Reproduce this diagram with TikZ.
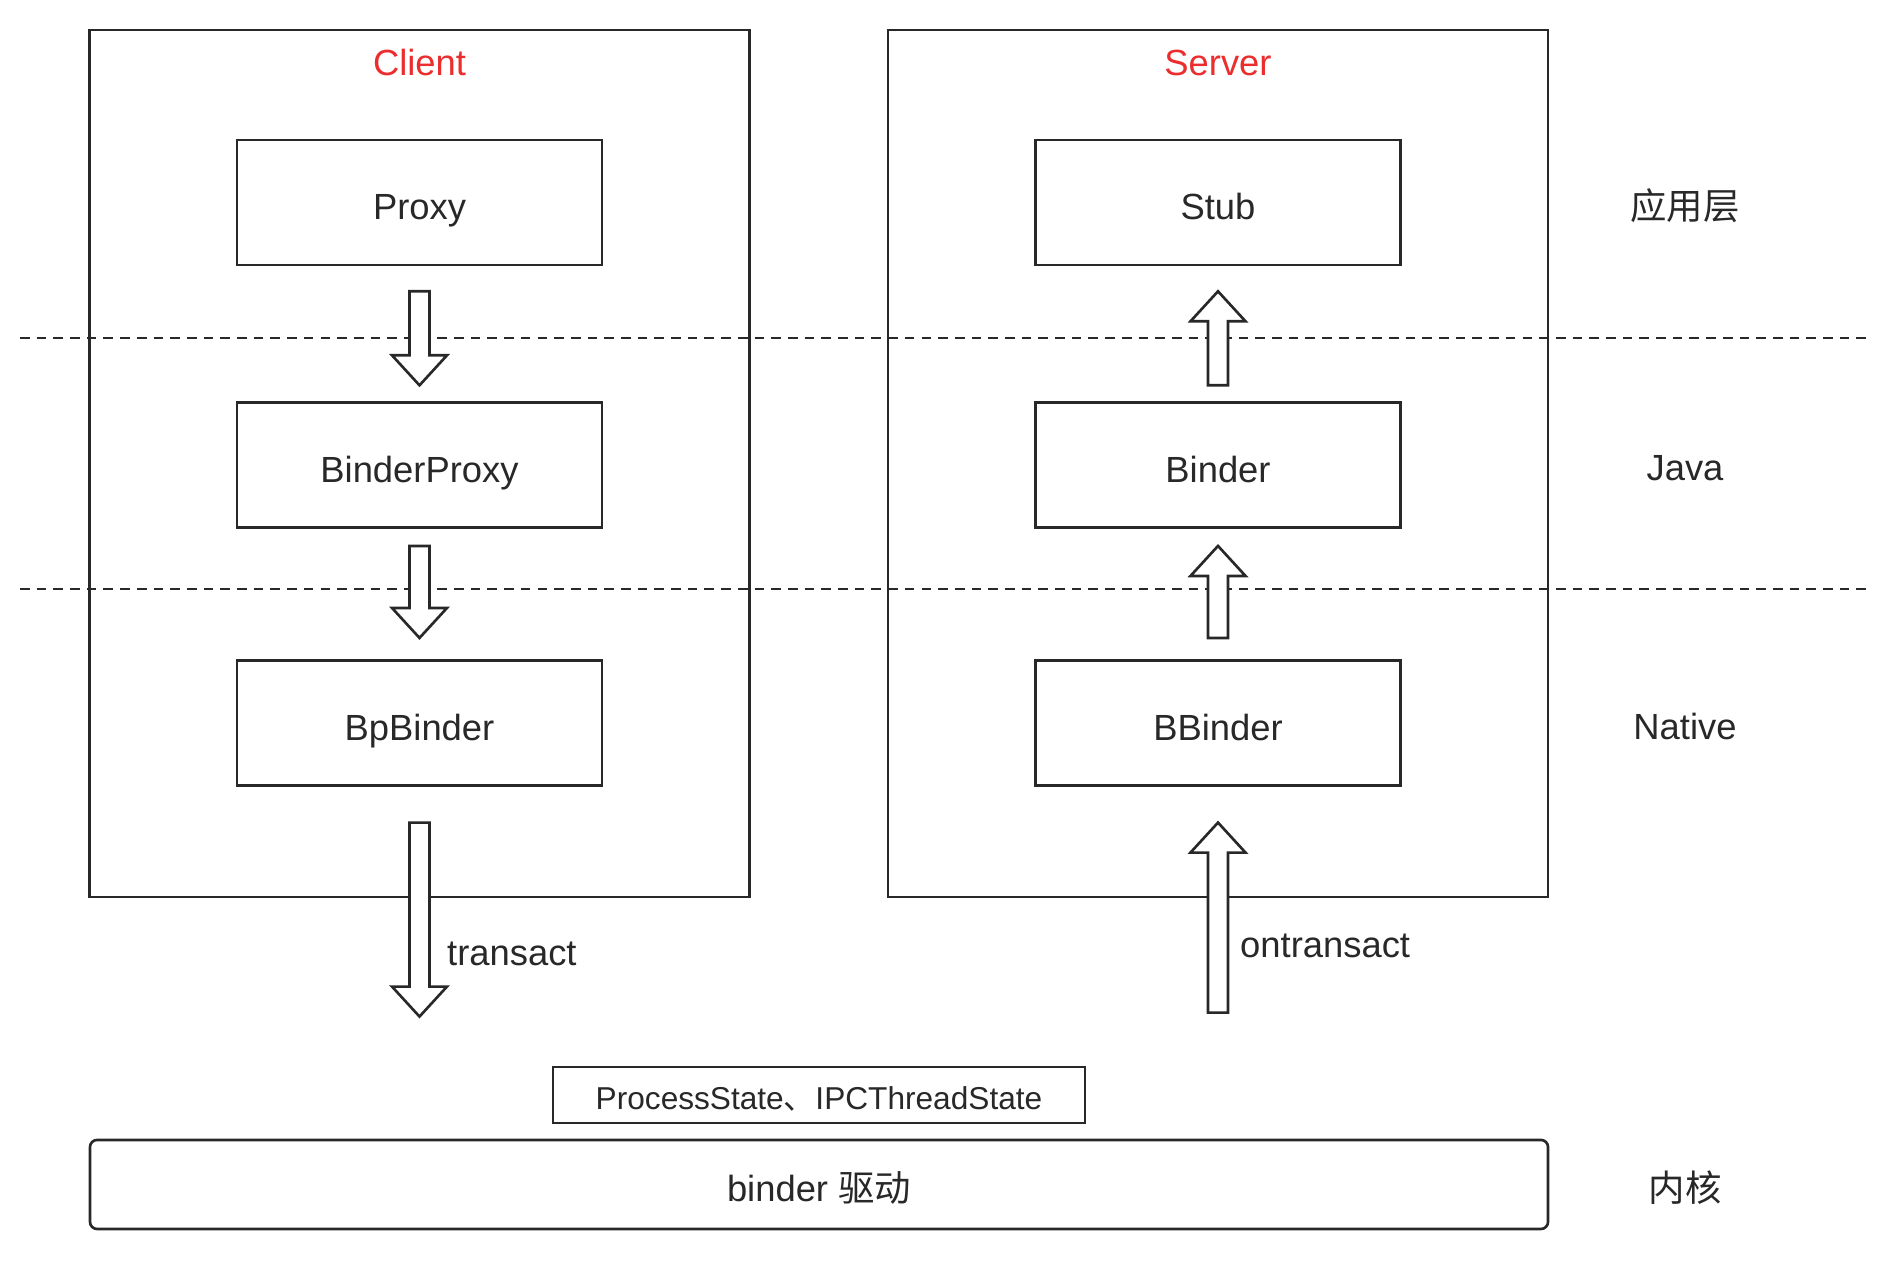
\documentclass[tikz,border=0pt]{standalone}
\usepackage{fontspec}
\setmainfont{Liberation Sans}
\newfontfamily\cjk{Noto Sans CJK SC}
\usetikzlibrary{positioning,calc}

\definecolor{txtgray}{RGB}{40,40,40}
\definecolor{linegray}{RGB}{40,40,40}
\definecolor{titlered}{RGB}{235,45,45}

\tikzset{
  sidebox/.style={draw=linegray, line width=1.5pt, minimum width=13.2cm,
    minimum height=17.34cm},
  layerbox/.style={draw=linegray, line width=1.5pt, minimum width=7.3cm,
    minimum height=2.5cm},
  layerline/.style={draw=linegray, line width=0.8pt, dash pattern=on 5.5pt off 4pt},
  arrowline/.style={draw=linegray, fill=white, line width=1.5pt, line join=miter}
}

% hollow block arrow from tail #1 to tip #2
\newcommand{\hollowarrow}[2]{%
  \coordinate (neck) at ($(#2)!0.6cm!(#1)$);
  \draw[arrowline] ($(#1)!0.2cm!90:(#2)$) -- ($(neck)!0.2cm!90:(#2)$)
    -- ($(neck)!0.55cm!90:(#2)$) -- (#2) -- ($(neck)!0.55cm!-90:(#2)$)
    -- ($(neck)!0.2cm!-90:(#2)$) -- ($(#1)!0.2cm!-90:(#2)$) -- cycle;
}

\begin{document}
\begin{tikzpicture}[every node/.style={font=\fontsize{20.7pt}{25pt}\selectfont,
    text=txtgray, text height=19.7pt, text depth=0pt}]
  \useasboundingbox (0,0) rectangle (37.6,25.24);

  \node (client) [sidebox] at (8.39,15.97) {};
  \node (server) [sidebox] at (24.36,15.97) {};
  \node (clienttitle) [text=titlered] at ($(client.north)+(0,-0.6)$) {Client};
  \node (servertitle) [text=titlered] at ($(server.north)+(0,-0.6)$) {Server};

  \draw[layerline] (0.4,18.48) -- (37.36,18.48);
  \draw[layerline] (0.4,13.46) -- (37.36,13.46);

  \node (proxy) [layerbox] at (8.39,21.19) {Proxy};
  \node (bproxy) [layerbox, below=2.7cm of proxy] {BinderProxy};
  \node (bpbinder) [layerbox, below=2.6cm of bproxy] {BpBinder};

  \node (stub) [layerbox] at (24.36,21.19) {Stub};
  \node (binder) [layerbox, below=2.7cm of stub] {Binder};
  \node (bbinder) [layerbox, below=2.6cm of binder] {BBinder};

  \coordinate (proxyout) at ($(proxy.south)+(0,-0.5)$);
  \coordinate (bproxyin) at ($(bproxy.north)+(0,0.32)$);
  \coordinate (bproxyout) at ($(bproxy.south)+(0,-0.34)$);
  \coordinate (bpbinderin) at ($(bpbinder.north)+(0,0.42)$);
  \coordinate (bpbinderout) at ($(bpbinder.south)+(0,-0.72)$);
  \coordinate (transactend) at ($(bpbinder.south)+(0,-4.6)$);
  \hollowarrow{proxyout}{bproxyin}
  \hollowarrow{bproxyout}{bpbinderin}
  \hollowarrow{bpbinderout}{transactend}

  \coordinate (stubin) at ($(stub.south)+(0,-0.5)$);
  \coordinate (binderout) at ($(binder.north)+(0,0.32)$);
  \coordinate (binderin) at ($(binder.south)+(0,-0.34)$);
  \coordinate (bbinderout) at ($(bbinder.north)+(0,0.42)$);
  \coordinate (bbinderin) at ($(bbinder.south)+(0,-0.72)$);
  \coordinate (ontransactstart) at ($(bbinder.south)+(0,-4.52)$);
  \hollowarrow{binderout}{stubin}
  \hollowarrow{bbinderout}{binderin}
  \hollowarrow{ontransactstart}{bbinderin}

  \node (transact) [anchor=west] at (8.82,6.27) {transact};
  \node (ontransact) [anchor=west] at (24.68,6.43) {ontransact};

  \node (state) [draw=linegray, line width=1.5pt, minimum width=10.64cm,
    minimum height=1.12cm, font=\fontsize{18pt}{22pt}\selectfont,
    text height=17pt] at (16.38,3.34) {ProcessState{\cjk 、}IPCThreadState};
  \node (driver) [draw=linegray, line width=1.5pt, rounded corners=4pt,
    minimum width=29.16cm, minimum height=1.78cm]
    at (16.38,1.55) {binder {\cjk 驱动}};

  \node (applayer) at (33.7,21.19) {\cjk 应用层};
  \node (javalayer) at (33.7,15.97) {Java};
  \node (nativelayer) at (33.7,10.8) {Native};
  \node (kernellayer) at (33.7,1.55) {\cjk 内核};
\end{tikzpicture}
\end{document}
